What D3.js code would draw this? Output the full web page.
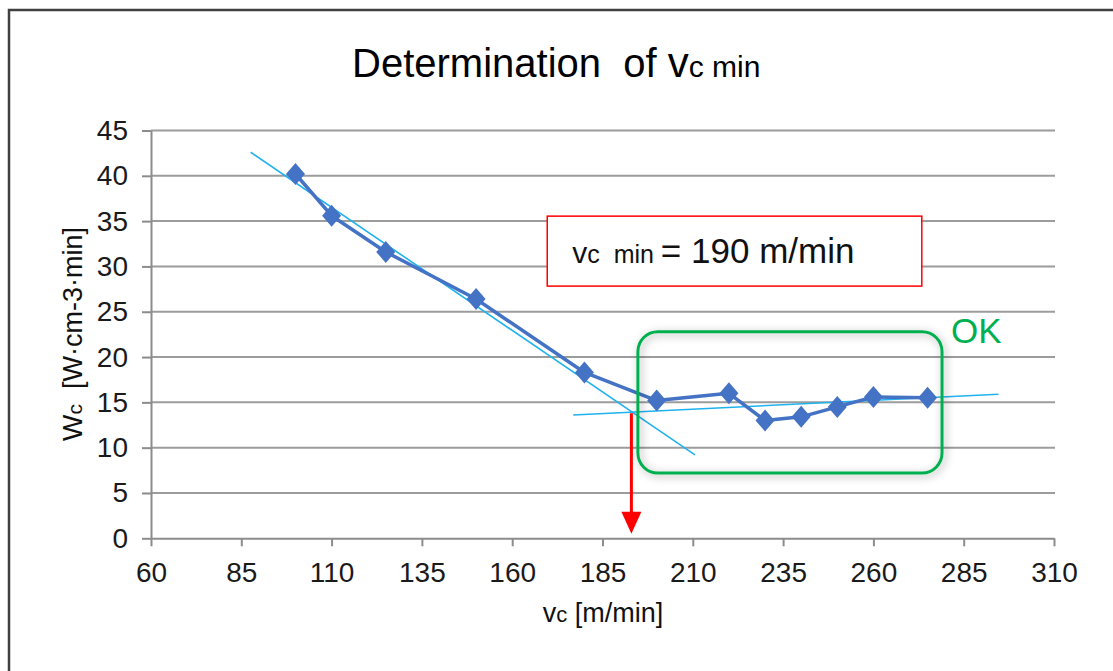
<!DOCTYPE html>
<html>
<head>
<meta charset="utf-8">
<script src="https://cdn.jsdelivr.net/npm/d3@7"></script>
<style>
  html, body { margin: 0; padding: 0; background: #fff; }
  svg { display: block; font-family: "Liberation Sans", Arial, sans-serif; }
  svg text { white-space: pre; }
</style>
</head>
<body>
<svg id="chart" width="1113" height="671"></svg>
<script>
// ---- data ----
const cuttingSpeed = [100, 110, 125, 150, 180, 200, 220, 230, 240, 250, 260, 275];   // vc [m/min]
const specificEnergy = [40.2, 35.6, 31.6, 26.4, 18.3, 15.2, 16.0, 13.0, 13.4, 14.5, 15.6, 15.5]; // Wc
const trendSteepX = [87.6, 210.6];
const trendSteepY = [42.6, 9.2];
const trendFlatX = [176.9, 294.6];
const trendFlatY = [13.6, 15.9];
const xTicks = [60, 85, 110, 135, 160, 185, 210, 235, 260, 285, 310];
const yTicks = [0, 5, 10, 15, 20, 25, 30, 35, 40, 45];
const arrowVc = [193, 193];
const arrowWc = [13.8, 0.5];
const vcMinLabel = "190 m/min";

const svg = d3.select("#chart");
const plot = { left: 151, right: 1054, top: 130.5, bottom: 538.3 };

const x = d3.scaleLinear().domain([60, 310]).range([plot.left, plot.right]);
const y = d3.scaleLinear().domain([0, 45]).range([plot.bottom, plot.top]);

// defs
const defs = svg.append("defs");
const f = defs.append("filter").attr("id", "glow")
  .attr("x", "-10%").attr("y", "-15%").attr("width", "120%").attr("height", "130%");
f.append("feDropShadow").attr("dx", 2).attr("dy", 2).attr("stdDeviation", 4)
  .attr("flood-color", "#000").attr("flood-opacity", 0.35);

// frame
svg.append("rect").attr("x", 9).attr("y", 10).attr("width", 1200).attr("height", 800)
  .attr("fill", "#fff").attr("stroke", "#404040").attr("stroke-width", 2.5);

// gridlines
svg.append("g").selectAll("line").data(yTicks.filter(d => d > 0)).join("line")
  .attr("x1", plot.left).attr("x2", plot.right + 1)
  .attr("y1", d => y(d)).attr("y2", d => y(d))
  .attr("stroke", "#9c9c9c").attr("stroke-width", 2);

// axes
const xAxis = d3.axisBottom(x).tickValues(xTicks).tickSize(8).tickPadding(16).tickSizeOuter(0);
const yAxis = d3.axisLeft(y).tickValues(yTicks).tickSize(9).tickPadding(14).tickSizeOuter(0);

const gx = svg.append("g").attr("transform", `translate(0,${plot.bottom})`).call(xAxis);
const gy = svg.append("g").attr("transform", `translate(${plot.left},0)`).call(yAxis);
[gx, gy].forEach(g => {
  g.select(".domain").attr("stroke", "#8c8c8c").attr("stroke-width", 2);
  g.selectAll(".tick line").attr("stroke", "#8c8c8c").attr("stroke-width", 2);
  g.selectAll(".tick text").attr("fill", "#1a1a1a").style("font-size", "28px")
    .style("font-family", "'Liberation Sans', Arial, sans-serif");
});

// trend lines
const lineGen = d3.line().x(d => x(d[0])).y(d => y(d[1]));
svg.append("path").datum(d3.zip(trendSteepX, trendSteepY)).attr("d", lineGen)
  .attr("fill", "none").attr("stroke", "#1fb2ee").attr("stroke-width", 1.6);
svg.append("path").datum(d3.zip(trendFlatX, trendFlatY)).attr("d", lineGen)
  .attr("fill", "none").attr("stroke", "#1fb2ee").attr("stroke-width", 1.6);

// series line
const pts = d3.zip(cuttingSpeed, specificEnergy);
svg.append("path").datum(pts).attr("d", lineGen)
  .attr("fill", "none").attr("stroke", "#4472c4").attr("stroke-width", 3.5)
  .attr("stroke-linejoin", "round");

// diamond markers
const diamond = { draw(ctx) { const w = 9.5, h = 11; ctx.moveTo(0, -h); ctx.lineTo(w, 0); ctx.lineTo(0, h); ctx.lineTo(-w, 0); ctx.closePath(); } };
svg.append("g").selectAll("path").data(pts).join("path")
  .attr("transform", d => `translate(${x(d[0])},${y(d[1])})`)
  .attr("d", d3.symbol().type(diamond).size(100))
  .attr("fill", "#4472c4");

// green OK box
const gb = { x0: 194.8, x1: 279, y0: 22.8, y1: 7.2 };
svg.append("rect")
  .attr("x", x(gb.x0)).attr("y", y(gb.y0))
  .attr("width", x(gb.x1) - x(gb.x0)).attr("height", y(gb.y1) - y(gb.y0))
  .attr("rx", 20).attr("ry", 20)
  .attr("fill", "none").attr("stroke", "#00b050").attr("stroke-width", 3)
  .attr("filter", "url(#glow)");
svg.append("text").attr("x", x(gb.x1) + 9).attr("y", 343)
  .attr("fill", "#00b050").style("font-size", "35px").text("OK");

// red arrow
const ax = x(arrowVc[0]);
svg.append("line").attr("x1", ax).attr("x2", ax)
  .attr("y1", y(arrowWc[0])).attr("y2", y(arrowWc[1]) - 18)
  .attr("stroke", "#ff0000").attr("stroke-width", 3);
svg.append("path")
  .attr("d", `M${ax - 10},${y(arrowWc[1]) - 22} L${ax + 10},${y(arrowWc[1]) - 22} L${ax},${y(arrowWc[1])} Z`)
  .attr("fill", "#ff0000");

// red annotation box
const rb = { x0: 169.7, x1: 273.4, y0: 35.55, y1: 27.83 };
svg.append("rect")
  .attr("x", x(rb.x0)).attr("y", y(rb.y0))
  .attr("width", x(rb.x1) - x(rb.x0)).attr("height", y(rb.y1) - y(rb.y0))
  .attr("fill", "#fff").attr("stroke", "#ff0000").attr("stroke-width", 1.5);
const bt = svg.append("text").attr("x", x(rb.x0) + 25).attr("y", 263).attr("fill", "#111");
bt.append("tspan").style("font-size", "30px").text("v");
bt.append("tspan").style("font-size", "25px").text("c  min ");
bt.append("tspan").style("font-size", "35px").text("= " + vcMinLabel);

// title
const t = svg.append("text").attr("x", 352).attr("y", 77).attr("fill", "#000");
t.append("tspan").style("font-size", "40px").text("Determination  of ");
t.append("tspan").style("font-size", "42px").text("v");
t.append("tspan").style("font-size", "30px").text("c min");

// x axis title
const xt = svg.append("text").attr("x", 603).attr("y", 622).attr("text-anchor", "middle").attr("fill", "#111");
xt.append("tspan").style("font-size", "27px").text("v");
xt.append("tspan").style("font-size", "22px").text("c");
xt.append("tspan").style("font-size", "27px").text(" [m/min]");

// y axis title
const yt = svg.append("text").attr("transform", "translate(82,334) rotate(-90)")
  .attr("text-anchor", "middle").attr("fill", "#111");
yt.append("tspan").style("font-size", "28px").text("W");
yt.append("tspan").style("font-size", "21px").text("c");
yt.append("tspan").style("font-size", "27px").text("  [W·cm-3·min]");
</script>
</body>
</html>
